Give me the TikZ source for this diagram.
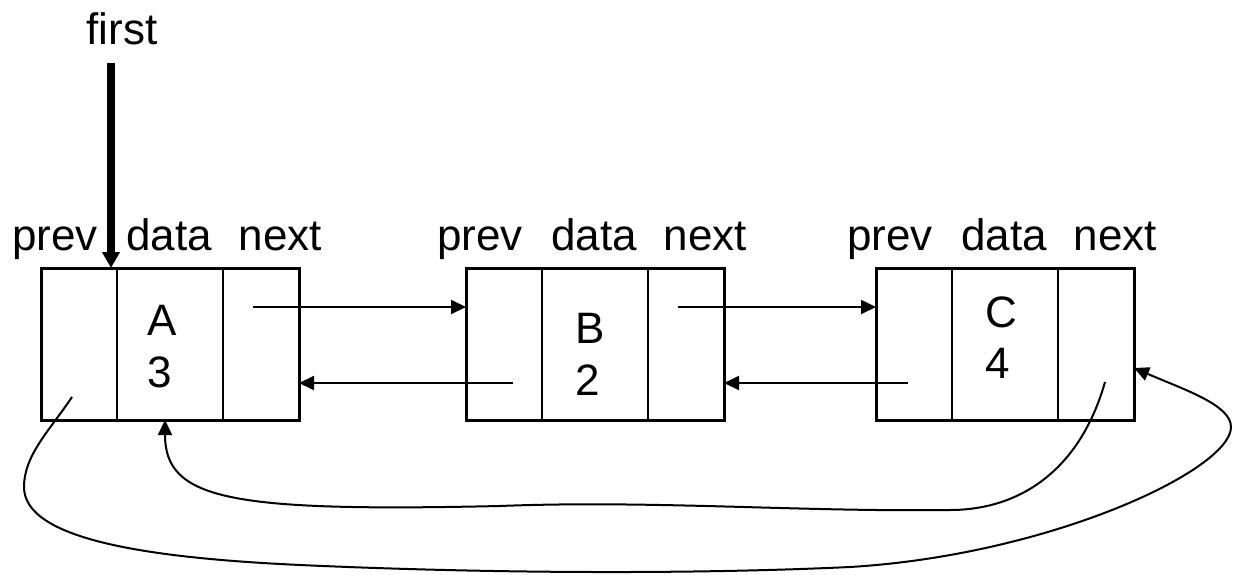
\documentclass[tikz,border=0pt]{standalone}
\usepackage{fontspec}
\setmainfont{Liberation Sans}
\usetikzlibrary{arrows.meta}

\tikzset{
  label/.style={inner sep=0pt, font=\fontsize{44}{52}\selectfont},
  cell/.style={draw, line width=2pt, minimum height=152pt, inner sep=0pt,
    outer sep=0pt, anchor=north west},
  sidecell/.style={cell, minimum width=76pt},
  datacell/.style={cell, minimum width=106pt},
  frame/.style={line width=3pt},
  ptr/.style={line width=2pt, -{Triangle[length=15pt,width=14pt]}},
  headptr/.style={line width=8pt, -{Triangle[length=16pt,width=17pt]}},
}

\begin{document}
\begin{tikzpicture}[x=1pt, y=-1pt]
  \useasboundingbox (0,0) rectangle (1233,575);

  % list nodes: prev | data | next
  \node[sidecell] (Aprev) at (41,268) {};
  \node[datacell] (Adata) at (117,268) {};
  \node[sidecell] (Anext) at (223,268) {};
  \draw[frame] (Aprev.north west) rectangle (Anext.south east);

  \node[sidecell] (Bprev) at (466,268) {};
  \node[datacell] (Bdata) at (542,268) {};
  \node[sidecell] (Bnext) at (648,268) {};
  \draw[frame] (Bprev.north west) rectangle (Bnext.south east);

  \node[sidecell] (Cprev) at (876,268) {};
  \node[datacell] (Cdata) at (952,268) {};
  \node[sidecell] (Cnext) at (1058,268) {};
  \draw[frame] (Cprev.north west) rectangle (Cnext.south east);

  % field headings
  \node[label, anchor=base] (hAp) at (55,250) {prev};
  \node[label, anchor=base] (hAd) at (169,250) {data};
  \node[label, anchor=base] (hAn) at (280.5,250) {next};
  \node[label, anchor=base] (hBp) at (480,250) {prev};
  \node[label, anchor=base] (hBd) at (594,250) {data};
  \node[label, anchor=base] (hBn) at (705.5,250) {next};
  \node[label, anchor=base] (hCp) at (890,250) {prev};
  \node[label, anchor=base] (hCd) at (1004,250) {data};
  \node[label, anchor=base] (hCn) at (1115.5,250) {next};

  % stored values
  \node[label, anchor=base west] (valA) at (147,335) {A};
  \node[label, anchor=base west] (numA) at (147,387) {3};
  \node[label, anchor=base west] (valB) at (575,343) {B};
  \node[label, anchor=base west] (numB) at (575,395) {2};
  \node[label, anchor=base west] (valC) at (985,327) {C};
  \node[label, anchor=base west] (numC) at (985,378) {4};

  % head pointer
  \node[label, anchor=base] (first) at (122,45) {first};
  \coordinate (firstTail) at (111,63);
  \draw[headptr] (firstTail) -- (firstTail |- Adata.north);

  % link fields
  \coordinate (pA) at (72,397);
  \coordinate (nA) at (253,307);
  \coordinate (pB) at (513,383);
  \coordinate (nB) at (678,307);
  \coordinate (pC) at (908,383);
  \coordinate (nC) at (1105,382);

  \draw[ptr] (nA) -- (nA -| Bprev.west);
  \draw[ptr] (pB) -- (pB -| Anext.east);
  \draw[ptr] (nB) -- (nB -| Cprev.west);
  \draw[ptr] (pC) -- (pC -| Bnext.east);

  % C.next wraps round to A
  \draw[ptr] (nC) .. controls (1080,470) and (1020,510) .. (950,510)
    .. controls (800,512) and (650,500) .. (500,506)
    .. controls (230,512) and (165,500) .. ([xshift=-5pt]Adata.south);

  % A.prev wraps round to C
  \draw[ptr] (pA) .. controls (50,430) and (24,455) .. (24,487)
    .. controls (24,540) and (150,558) .. (300,565)
    .. controls (500,574) and (700,574) .. (850,567)
    .. controls (1050,555) and (1231,470) .. (1231,427)
    .. controls (1231,405) and (1185,390) .. ([yshift=-24pt]Cnext.east);
\end{tikzpicture}
\end{document}
